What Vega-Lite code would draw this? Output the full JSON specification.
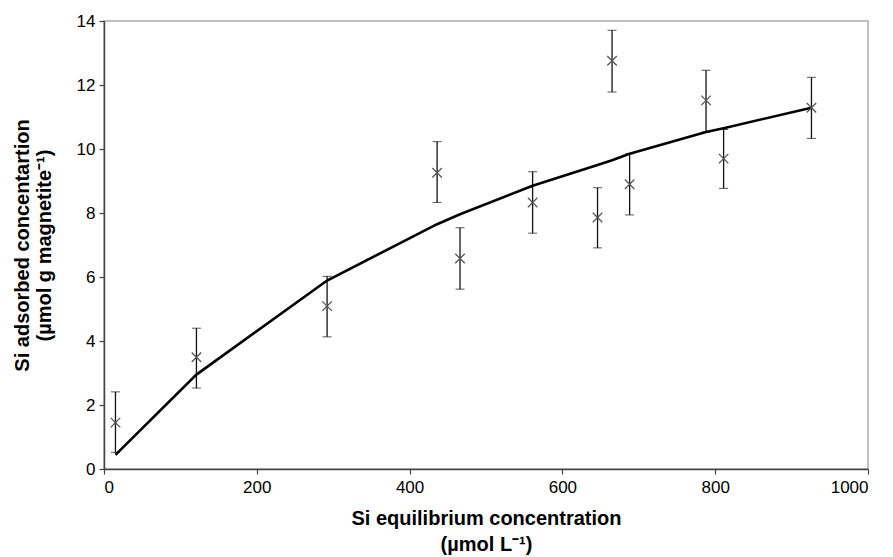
{
  "$schema": "https://vega.github.io/schema/vega-lite/v6.json",
  "width": 764,
  "height": 448,
  "autosize": "none",
  "padding": {"left": 104, "top": 21, "right": 25, "bottom": 88},
  "background": "white",
  "config": {
    "view": {"stroke": "#aaaaaa", "strokeWidth": 1.5},
    "font": "Liberation Sans",
    "axis": {
      "labelFont": "Liberation Sans",
      "titleFont": "Liberation Sans",
      "labelFontSize": 17,
      "labelColor": "#000",
      "titleFontSize": 20,
      "titleFontWeight": "bold",
      "titleColor": "#000",
      "titleLineHeight": 22,
      "grid": false,
      "domainColor": "#444",
      "domainWidth": 1.5,
      "tickColor": "#444",
      "tickSize": 5,
      "tickWidth": 1.2
    }
  },
  "data": {
    "values": [
      {"conc": 15, "ads": 1.45, "lo": 0.52, "hi": 2.41, "fit": 0.44},
      {"conc": 121, "ads": 3.49, "lo": 2.53, "hi": 4.40, "fit": 2.95},
      {"conc": 292, "ads": 5.09, "lo": 4.13, "hi": 6.02, "fit": 5.89},
      {"conc": 436, "ads": 9.26, "lo": 8.33, "hi": 10.23, "fit": 7.65},
      {"conc": 466, "ads": 6.58, "lo": 5.62, "hi": 7.54, "fit": 7.96},
      {"conc": 561, "ads": 8.33, "lo": 7.37, "hi": 9.29, "fit": 8.85},
      {"conc": 646, "ads": 7.86, "lo": 6.91, "hi": 8.79, "fit": 9.5},
      {"conc": 665, "ads": 12.76, "lo": 11.78, "hi": 13.71, "fit": 9.65},
      {"conc": 688, "ads": 8.90, "lo": 7.94, "hi": 9.85, "fit": 9.85},
      {"conc": 788, "ads": 11.52, "lo": 10.53, "hi": 12.46, "fit": 10.53},
      {"conc": 811, "ads": 9.70, "lo": 8.77, "hi": 10.61, "fit": 10.65},
      {"conc": 926, "ads": 11.29, "lo": 10.33, "hi": 12.24, "fit": 11.29}
    ]
  },
  "layer": [
    {
      "mark": {"type": "errorbar", "ticks": {"size": 9, "color": "#111"}, "rule": {"color": "#111", "strokeWidth": 1.3}},
      "encoding": {
        "x": {
          "field": "conc", "type": "quantitative",
          "scale": {"domain": [0, 1000], "nice": false},
          "axis": {"values": [0, 200, 400, 600, 800, 1000], "format": "d", "title": ["Si equilibrium concentration", "(µmol L⁻¹)"], "titlePadding": 13, "titleLineHeight": 26, "labelPadding": 5}
        },
        "y": {
          "field": "lo", "type": "quantitative",
          "scale": {"domain": [0, 14], "nice": false},
          "axis": {"values": [0, 2, 4, 6, 8, 10, 12, 14], "title": ["Si adsorbed concentartion", "(µmol g magnetite⁻¹)"], "titlePadding": 22, "labelPadding": 4}
        },
        "y2": {"field": "hi"}
      }
    },
    {
      "mark": {"type": "line", "color": "#000", "strokeWidth": 2.6},
      "encoding": {
        "x": {"field": "conc", "type": "quantitative", "title": ["Si equilibrium concentration", "(µmol L⁻¹)"]},
        "y": {"field": "fit", "type": "quantitative", "title": ["Si adsorbed concentartion", "(µmol g magnetite⁻¹)"]}
      }
    },
    {
      "mark": {"type": "point", "shape": "M-1,-1L1,1M1,-1L-1,1", "size": 90, "color": "#555", "strokeWidth": 1.3, "filled": false, "opacity": 1},
      "encoding": {
        "x": {"field": "conc", "type": "quantitative", "title": ["Si equilibrium concentration", "(µmol L⁻¹)"]},
        "y": {"field": "ads", "type": "quantitative", "title": ["Si adsorbed concentartion", "(µmol g magnetite⁻¹)"]}
      }
    }
  ]
}
